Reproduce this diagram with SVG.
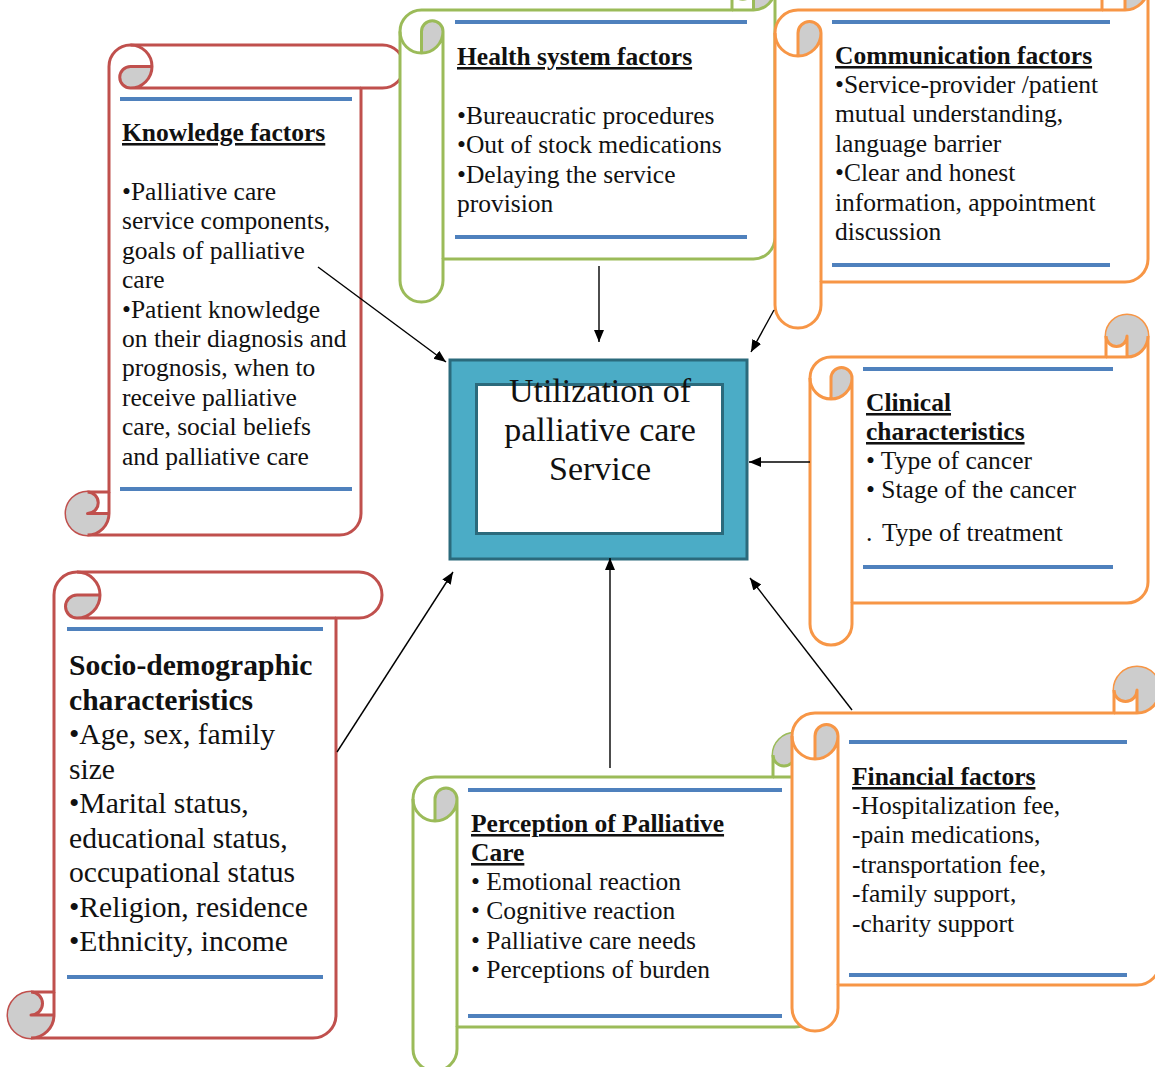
<svg xmlns="http://www.w3.org/2000/svg" width="1155" height="1067" viewBox="0 0 1155 1067">
<style>
.red .o{stroke:#C0504D}
.grn .o{stroke:#9BBB59}
.org .o{stroke:#F79646}
.o{fill:none;stroke-width:3;stroke-linejoin:round}
.body{fill:#fff}
.gr{fill:#CDCDCD;stroke:none}
.bl{stroke:#4F81BD;stroke-width:4}
text{font-family:"Liberation Serif","Times New Roman",serif;fill:#111}
.t{font-size:25.5px}
.h{font-size:25.5px;font-weight:bold;text-decoration:underline}
.s{font-size:29.6px}
.sh{font-size:29.6px;font-weight:bold}
.c{font-size:34px;text-anchor:middle}
.cn{stroke:#000;stroke-width:1.4;fill:none}
</style>
<defs>
<marker id="ah" markerUnits="userSpaceOnUse" markerWidth="13" markerHeight="11" refX="12" refY="5" orient="auto">
<path d="M0,0 L12,5 L0,10 Z" fill="#000"/>
</marker>
</defs>

<g id="knowledge" class="red">
<g transform="translate(66,45)">
<path class="body o" d="M43,447 L43,21.5 A21.5,21.5 0 0 1 64.5,0 L316.5,0 A21.5,21.5 0 0 1 316.5,43 L295,43 L295,468.5 A21.5,21.5 0 0 1 273.5,490 L21.5,490 A21.5,21.5 0 0 1 21.5,447 Z"/>
<path class="gr" d="M86,21.5 A21.5,21.5 0 0 1 64.5,43 A10.75,10.75 0 0 1 64.5,21.5 Z"/>
<path class="gr" d="M21.5,447 A10.75,10.75 0 0 1 21.5,468.5 L43,468.5 A21.5,21.5 0 0 1 21.5,490 A21.5,21.5 0 0 1 21.5,447 Z"/>
<path class="o" d="M64.5,0 A21.5,21.5 0 0 1 64.5,43 A10.75,10.75 0 0 1 64.5,21.5 L86,21.5 M295,43 L64.5,43 M21.5,447 A10.75,10.75 0 0 1 21.5,468.5 L43,468.5 M21.5,490 A21.5,21.5 0 0 0 43,468.5 L43,447"/>
</g>
<line class="bl" x1="120" y1="99" x2="352" y2="99"/>
<line class="bl" x1="120" y1="489" x2="352" y2="489"/>
<text class="h" x="122" y="141">Knowledge factors</text>
<text class="t" x="122" y="200">•Palliative care</text>
<text class="t" x="122" y="229.4">service components,</text>
<text class="t" x="122" y="258.8">goals of palliative</text>
<text class="t" x="122" y="288.2">care</text>
<text class="t" x="122" y="317.6">•Patient knowledge</text>
<text class="t" x="122" y="347">on their diagnosis and</text>
<text class="t" x="122" y="376.4">prognosis, when to</text>
<text class="t" x="122" y="405.8">receive palliative</text>
<text class="t" x="122" y="435.2">care, social beliefs</text>
<text class="t" x="122" y="464.6">and palliative care</text>
</g>

<g id="socio" class="red">
<g transform="translate(8,572)">
<path class="body o" d="M46,420 L46,23 A23,23 0 0 1 69,0 L351,0 A23,23 0 0 1 351,46 L328,46 L328,443 A23,23 0 0 1 305,466 L23,466 A23,23 0 0 1 23,420 Z"/>
<path class="gr" d="M92,23 A23,23 0 0 1 69,46 A11.5,11.5 0 0 1 69,23 Z"/>
<path class="gr" d="M23,420 A11.5,11.5 0 0 1 23,443 L46,443 A23,23 0 0 1 23,466 A23,23 0 0 1 23,420 Z"/>
<path class="o" d="M69,0 A23,23 0 0 1 69,46 A11.5,11.5 0 0 1 69,23 L92,23 M328,46 L69,46 M23,420 A11.5,11.5 0 0 1 23,443 L46,443 M23,466 A23,23 0 0 0 46,443 L46,420"/>
</g>
<line class="bl" x1="67" y1="629" x2="323" y2="629"/>
<line class="bl" x1="67" y1="977" x2="323" y2="977"/>
<text class="sh" x="69" y="675">Socio-demographic</text>
<text class="sh" x="69" y="710">characteristics</text>
<text class="s" x="69" y="744">•Age, sex, family</text>
<text class="s" x="69" y="779">size</text>
<text class="s" x="69" y="813">•Marital status,</text>
<text class="s" x="69" y="848">educational status,</text>
<text class="s" x="69" y="882">occupational status</text>
<text class="s" x="69" y="917">•Religion, residence</text>
<text class="s" x="69" y="951">•Ethnicity, income</text>
</g>

<g id="health" class="grn">
<g transform="matrix(0,1,1,0,400,-33)">
<path class="body o" d="M43,332 L43,21.5 A21.5,21.5 0 0 1 64.5,0 L313.5,0 A21.5,21.5 0 0 1 313.5,43 L292,43 L292,353.5 A21.5,21.5 0 0 1 270.5,375 L21.5,375 A21.5,21.5 0 0 1 21.5,332 Z"/>
<path class="gr" d="M86,21.5 A21.5,21.5 0 0 1 64.5,43 A10.75,10.75 0 0 1 64.5,21.5 Z"/>
<path class="gr" d="M21.5,332 A10.75,10.75 0 0 1 21.5,353.5 L43,353.5 A21.5,21.5 0 0 1 21.5,375 A21.5,21.5 0 0 1 21.5,332 Z"/>
<path class="o" d="M64.5,0 A21.5,21.5 0 0 1 64.5,43 A10.75,10.75 0 0 1 64.5,21.5 L86,21.5 M292,43 L64.5,43 M21.5,332 A10.75,10.75 0 0 1 21.5,353.5 L43,353.5 M21.5,375 A21.5,21.5 0 0 0 43,353.5 L43,332"/>
</g>
<line class="bl" x1="455" y1="22" x2="747" y2="22"/>
<line class="bl" x1="455" y1="237" x2="747" y2="237"/>
<text class="h" x="457" y="65">Health system factors</text>
<text class="t" x="457" y="124">•Bureaucratic procedures</text>
<text class="t" x="457" y="153.4">•Out of stock medications</text>
<text class="t" x="457" y="182.8">•Delaying the service</text>
<text class="t" x="457" y="212.2">provision</text>
</g>

<g id="communication" class="org">
<g transform="matrix(0,1,1,0,775,-36)">
<path class="body o" d="M46,327 L46,23 A23,23 0 0 1 69,0 L341,0 A23,23 0 0 1 341,46 L318,46 L318,350 A23,23 0 0 1 295,373 L23,373 A23,23 0 0 1 23,327 Z"/>
<path class="gr" d="M92,23 A23,23 0 0 1 69,46 A11.5,11.5 0 0 1 69,23 Z"/>
<path class="gr" d="M23,327 A11.5,11.5 0 0 1 23,350 L46,350 A23,23 0 0 1 23,373 A23,23 0 0 1 23,327 Z"/>
<path class="o" d="M69,0 A23,23 0 0 1 69,46 A11.5,11.5 0 0 1 69,23 L92,23 M318,46 L69,46 M23,327 A11.5,11.5 0 0 1 23,350 L46,350 M23,373 A23,23 0 0 0 46,350 L46,327"/>
</g>
<line class="bl" x1="832" y1="22" x2="1110" y2="22"/>
<line class="bl" x1="832" y1="265" x2="1110" y2="265"/>
<text class="h" x="835" y="64">Communication factors</text>
<text class="t" x="835" y="93">•Service-provider /patient</text>
<text class="t" x="835" y="122.4">mutual understanding,</text>
<text class="t" x="835" y="151.8">language barrier</text>
<text class="t" x="835" y="181.2">•Clear and honest</text>
<text class="t" x="835" y="210.6">information, appointment</text>
<text class="t" x="835" y="240">discussion</text>
</g>

<g id="clinical" class="org">
<g transform="matrix(0,1,1,0,810,315)">
<path class="body o" d="M42,296 L42,21 A21,21 0 0 1 63,0 L309,0 A21,21 0 0 1 309,42 L288,42 L288,317 A21,21 0 0 1 267,338 L21,338 A21,21 0 0 1 21,296 Z"/>
<path class="gr" d="M84,21 A21,21 0 0 1 63,42 A10.5,10.5 0 0 1 63,21 Z"/>
<path class="gr" d="M21,296 A10.5,10.5 0 0 1 21,317 L42,317 A21,21 0 0 1 21,338 A21,21 0 0 1 21,296 Z"/>
<path class="o" d="M63,0 A21,21 0 0 1 63,42 A10.5,10.5 0 0 1 63,21 L84,21 M288,42 L63,42 M21,296 A10.5,10.5 0 0 1 21,317 L42,317 M21,338 A21,21 0 0 0 42,317 L42,296"/>
</g>
<line class="bl" x1="863" y1="369" x2="1113" y2="369"/>
<line class="bl" x1="863" y1="567" x2="1113" y2="567"/>
<text class="h" x="866" y="411">Clinical</text>
<text class="h" x="866" y="440">characteristics</text>
<text class="t" x="866" y="469">• Type of cancer</text>
<text class="t" x="866" y="498.4">• Stage of the cancer</text>
<text class="t" x="866" y="541">.<tspan x="882">Type of treatment</tspan></text>
</g>

<g id="perception" class="grn">
<g transform="matrix(0,1,1,0,413,733)">
<path class="body o" d="M44,360 L44,22 A22,22 0 0 1 66,0 L316,0 A22,22 0 0 1 316,44 L294,44 L294,382 A22,22 0 0 1 272,404 L22,404 A22,22 0 0 1 22,360 Z"/>
<path class="gr" d="M88,22 A22,22 0 0 1 66,44 A11,11 0 0 1 66,22 Z"/>
<path class="gr" d="M22,360 A11,11 0 0 1 22,382 L44,382 A22,22 0 0 1 22,404 A22,22 0 0 1 22,360 Z"/>
<path class="o" d="M66,0 A22,22 0 0 1 66,44 A11,11 0 0 1 66,22 L88,22 M294,44 L66,44 M22,360 A11,11 0 0 1 22,382 L44,382 M22,404 A22,22 0 0 0 44,382 L44,360"/>
</g>
<line class="bl" x1="468" y1="790" x2="782" y2="790"/>
<line class="bl" x1="468" y1="1016" x2="782" y2="1016"/>
<text class="h" x="471" y="832">Perception of Palliative</text>
<text class="h" x="471" y="861">Care</text>
<text class="t" x="471" y="890">• Emotional reaction</text>
<text class="t" x="471" y="919.4">• Cognitive reaction</text>
<text class="t" x="471" y="948.8">• Palliative care needs</text>
<text class="t" x="471" y="978.2">• Perceptions of burden</text>
</g>

<g id="financial" class="org">
<g transform="matrix(0,1,1,0,792,667)">
<path class="body o" d="M46,322 L46,23 A23,23 0 0 1 69,0 L341,0 A23,23 0 0 1 341,46 L318,46 L318,345 A23,23 0 0 1 295,368 L23,368 A23,23 0 0 1 23,322 Z"/>
<path class="gr" d="M92,23 A23,23 0 0 1 69,46 A11.5,11.5 0 0 1 69,23 Z"/>
<path class="gr" d="M23,322 A11.5,11.5 0 0 1 23,345 L46,345 A23,23 0 0 1 23,368 A23,23 0 0 1 23,322 Z"/>
<path class="o" d="M69,0 A23,23 0 0 1 69,46 A11.5,11.5 0 0 1 69,23 L92,23 M318,46 L69,46 M23,322 A11.5,11.5 0 0 1 23,345 L46,345 M23,368 A23,23 0 0 0 46,345 L46,322"/>
</g>
<line class="bl" x1="849" y1="742" x2="1127" y2="742"/>
<line class="bl" x1="849" y1="975" x2="1127" y2="975"/>
<text class="h" x="852" y="785">Financial factors</text>
<text class="t" x="852" y="814">-Hospitalization fee,</text>
<text class="t" x="852" y="843.4">-pain medications,</text>
<text class="t" x="852" y="872.8">-transportation fee,</text>
<text class="t" x="852" y="902.2">-family support,</text>
<text class="t" x="852" y="931.6">-charity support</text>
</g>

<g id="center">
<rect x="450" y="360" width="297" height="199" fill="#4BACC6" stroke="#2B6A7C" stroke-width="3"/>
<rect x="476.5" y="384.5" width="246" height="149" fill="#fff" stroke="#2B6A7C" stroke-width="3"/>
<text class="c" x="600" y="402">Utilization of</text>
<text class="c" x="600" y="441">palliative care</text>
<text class="c" x="600" y="480">Service</text>
</g>

<g id="connectors">
<line class="cn" x1="318" y1="267" x2="446" y2="362" marker-end="url(#ah)"/>
<line class="cn" x1="599" y1="266" x2="599" y2="342" marker-end="url(#ah)"/>
<line class="cn" x1="774" y1="310" x2="751" y2="352" marker-end="url(#ah)"/>
<line class="cn" x1="810" y1="462" x2="749" y2="462" marker-end="url(#ah)"/>
<line class="cn" x1="852" y1="710" x2="750" y2="578" marker-end="url(#ah)"/>
<line class="cn" x1="610" y1="768" x2="610" y2="558" marker-end="url(#ah)"/>
<line class="cn" x1="337" y1="752" x2="453" y2="572" marker-end="url(#ah)"/>
</g>
</svg>
